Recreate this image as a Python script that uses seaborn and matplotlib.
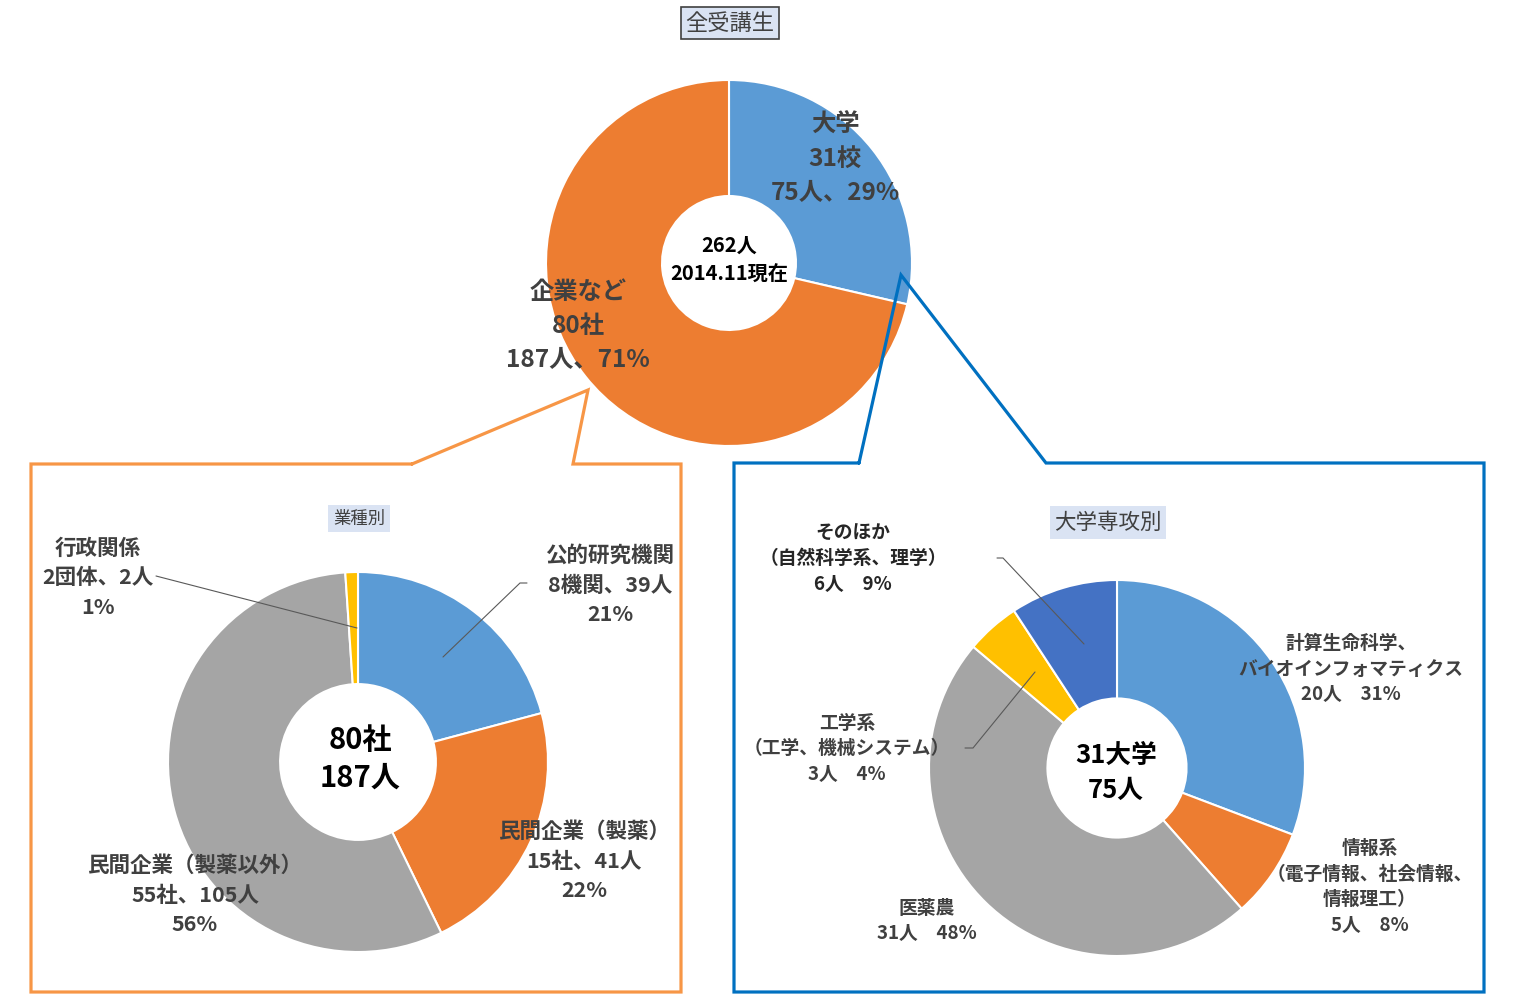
import matplotlib
matplotlib.use("Agg")
import matplotlib.pyplot as plt
import matplotlib.patches as mpatches
from matplotlib.lines import Line2D
import seaborn as sns

# --- data -----------------------------------------------------------------
top_names = ["大学", "企業など"]
top_values = [75, 187]
top_labels = ["大学\n31校\n75人、29%", "企業など\n80社\n187人、71%"]
top_center = "262人\n2014.11現在"

ind_names = ["公的研究機関", "民間企業（製薬）", "民間企業（製薬以外）", "行政関係"]
ind_values = [39, 41, 105, 2]
ind_labels = ["公的研究機関\n8機関、39人\n21%",
              "民間企業（製薬）\n15社、41人\n22%",
              "民間企業（製薬以外）\n55社、105人\n56%",
              "行政関係\n2団体、2人\n1%"]
ind_center = "80社\n187人"

uni_names = ["計算生命科学", "情報系", "医薬農", "工学系", "そのほか"]
uni_values = [20, 5, 31, 3, 6]
uni_labels = ["計算生命科学、\nバイオインフォマティクス\n20人　31%",
              "情報系\n（電子情報、社会情報、\n情報理工）\n5人　8%",
              "医薬農\n31人　48%",
              "工学系\n（工学、機械システム）\n3人　4%",
              "そのほか\n（自然科学系、理学）\n6人　9%"]
uni_center = "31大学\n75人"

titles = ["全受講生", "業種別", "大学専攻別"]

# --- style ----------------------------------------------------------------
sns.set_theme(style="white")
plt.rcParams['font.family'] = ['Noto Sans CJK JP', 'DejaVu Sans']

office = sns.color_palette(["#5B9BD5", "#ED7D31", "#A5A5A5", "#FFC000", "#4472C4"])
label_color = "#404040"

W, H = 1526, 998
fig = plt.figure(figsize=(W / 100, H / 100), dpi=100)


def px(x, y):
  return x / W, 1 - y / H


def donut(cx, cy, r, hole, values, colors):
  ax = fig.add_axes([(cx - r) / W, 1 - (cy + r) / H, 2 * r / W, 2 * r / H])
  ax.pie(values, colors=colors, startangle=90, counterclock=False, radius=1,
         wedgeprops=dict(width=1 - hole, edgecolor='white', linewidth=1.5))
  ax.set_xlim(-1, 1)
  ax.set_ylim(-1, 1)
  ax.axis('off')
  return ax


def label(x, y, s, size, color=label_color, weight='bold', ls=1.35):
  fig.text(*px(x, y), s, ha='center', va='center', fontsize=size,
           color=color, fontweight=weight, linespacing=ls, zorder=5)


def polyline(pts, color, lw):
  xs = [p[0] / W for p in pts]
  ys = [1 - p[1] / H for p in pts]
  fig.add_artist(Line2D(xs, ys, color=color, lw=lw, solid_joinstyle='miter',
                        transform=fig.transFigure, zorder=4))


def title_box(x0, y0, x1, y1, s, size, edge=None):
  rect = mpatches.Rectangle(px(x0, y1), (x1 - x0) / W, (y1 - y0) / H,
                            transform=fig.transFigure, facecolor="#DAE3F3",
                            edgecolor=edge if edge else "none", lw=1.2, zorder=4)
  fig.add_artist(rect)
  label((x0 + x1) / 2, (y0 + y1) / 2, s, size, weight='normal')


# --- top donut ------------------------------------------------------------
donut(729, 263, 183, 0.366, top_values, office[:2])
label(835, 159, top_labels[0], 17.5, ls=1.55)
label(578, 326, top_labels[1], 17.5, ls=1.55)
label(729, 260, top_center, 14.5, color='black', weight='bold', ls=1.5)
title_box(681, 7, 779, 39, titles[0], 16, edge="#404040")

# --- callout frames -------------------------------------------------------
polyline([(412, 464), (31, 464), (31, 992), (681, 992), (681, 464),
          (573, 464), (588, 390), (412, 464)], "#F79646", 2.3)
polyline([(859, 463), (734, 463), (734, 992), (1484, 992), (1484, 463),
          (1046, 463), (901, 275), (859, 463)], "#0070C0", 2.3)

# --- industry donut -------------------------------------------------------
donut(358, 762, 190, 0.41, ind_values, office[:4])
label(610, 585, ind_labels[0], 15.5, ls=1.5)
label(584, 861, ind_labels[1], 15.5, ls=1.5)
label(195, 895, ind_labels[2], 15.5, ls=1.5)
label(98, 578, ind_labels[3], 15.5, ls=1.5)
label(360, 759, ind_center, 21, color='black', weight='bold', ls=1.3)
title_box(328, 505, 390, 532, titles[1], 12.5)
polyline([(156, 576), (357, 628)], "#595959", 0.8)
polyline([(527, 583), (520, 583), (443, 657)], "#595959", 0.8)

# --- university donut -----------------------------------------------------
donut(1117, 768, 188, 0.37, uni_values, office[:5])
label(1351, 669, uni_labels[0], 13.5, ls=1.45)
label(1370, 887, uni_labels[1], 13.5, ls=1.45)
label(927, 921, uni_labels[2], 13.5, ls=1.45)
label(847, 749, uni_labels[3], 13.5, ls=1.45)
label(853, 559, uni_labels[4], 13.5, color='#262626', ls=1.45)
label(1116, 773, uni_center, 18.5, color='black', weight='bold', ls=1.35)
title_box(1050, 506, 1166, 539, titles[2], 15.5)
polyline([(997, 558), (1003, 558), (1084, 644)], "#595959", 0.8)
polyline([(965, 748), (973, 748), (1035, 672)], "#595959", 0.8)

fig.savefig("out.png", dpi=100, facecolor='white')
plt.close(fig)
